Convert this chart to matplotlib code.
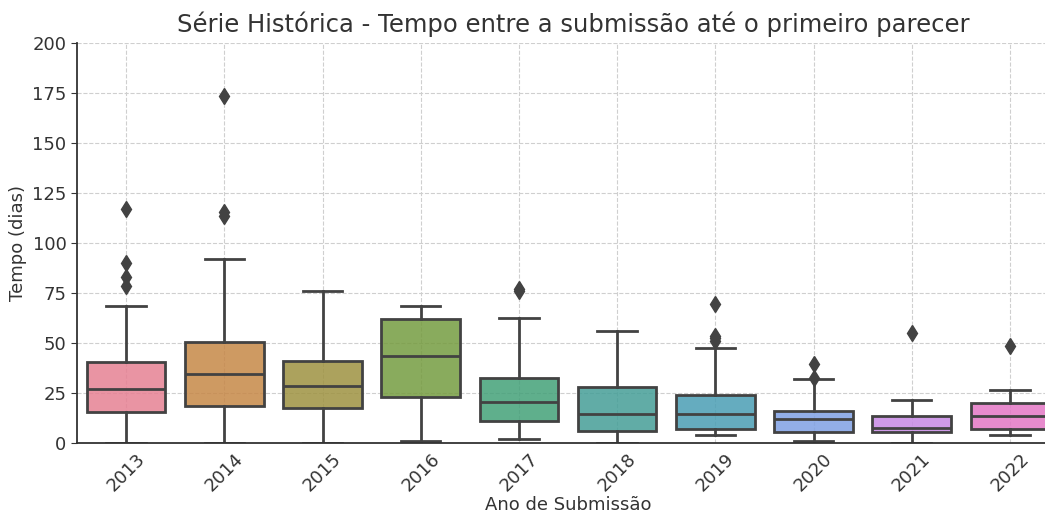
import colorsys
import numpy as np
import matplotlib
matplotlib.use('Agg')
import matplotlib.pyplot as plt
import seaborn as sns

anos = ['2013', '2014', '2015', '2016', '2017', '2018', '2019', '2020', '2021', '2022']

# resumo de cada ano (dias ate o primeiro parecer)
whislo = [0, 0, 0, 1, 2, 0, 4, 1, 0, 4]
q1 = [15.7, 18.5, 17.3, 22.8, 11.0, 6.2, 7.0, 5.5, 5.5, 7.0]
med = [26.8, 34.3, 28.7, 43.5, 20.7, 14.5, 14.5, 11.8, 7.3, 13.5]
q3 = [40.3, 50.7, 40.8, 62.2, 32.7, 28.0, 23.8, 16.2, 13.5, 19.8]
whishi = [68.7, 91.8, 75.8, 68.7, 62.7, 56.0, 47.7, 31.8, 21.5, 26.7]
outliers = [
    [117, 89.8, 83, 78.7],
    [173.7, 115.7, 113.7],
    [],
    [],
    [76, 77],
    [],
    [69.7, 53.5, 52.5, 51.2],
    [39.3, 32.7],
    [54.8],
    [48.5],
]

plt.rcParams['font.family'] = 'DejaVu Sans'

# paleta husl dessaturada, como no boxplot do seaborn
cores = sns.color_palette(sns.husl_palette(len(anos)), desat=0.75)
lum = min(colorsys.rgb_to_hls(*c)[1] for c in cores) * 0.6
cinza = (lum, lum, lum)

stats = []
for i in range(len(anos)):
    stats.append(dict(whislo=whislo[i], q1=q1[i], med=med[i], q3=q3[i],
                      whishi=whishi[i], fliers=outliers[i], label=anos[i]))

fig = plt.figure(figsize=(10.45, 5.16), dpi=100)
ax = fig.add_axes([0.0737, 0.1415, 0.9397, 0.775])

bp = ax.bxp(stats, positions=range(len(anos)), widths=0.8, patch_artist=True,
            boxprops=dict(edgecolor=cinza, linewidth=2),
            medianprops=dict(color=cinza, linewidth=2),
            whiskerprops=dict(color=cinza, linewidth=2),
            capprops=dict(color=cinza, linewidth=2),
            capwidths=0.4,
            flierprops=dict(marker='d', markerfacecolor=cinza, markeredgecolor=cinza,
                            markersize=8, linestyle='none'))
for caixa, cor in zip(bp['boxes'], cores):
    caixa.set_facecolor((*cor, 0.85))

ax.set_xlim(-0.5, len(anos) - 0.5)
ax.set_ylim(0, 200)
ax.set_yticks(np.arange(0, 201, 25))
ax.set_xticks(range(len(anos)))
ax.set_xticklabels(anos, rotation=45, fontsize=13)
ax.tick_params(axis='y', labelsize=13, length=4, color='#333333')
ax.tick_params(axis='x', length=0, pad=5)

ax.grid(True, linestyle='--', color='#cfcfcf', linewidth=0.8)
ax.set_axisbelow(True)
for lado in ('top', 'right'):
    ax.spines[lado].set_visible(False)
for lado in ('left', 'bottom'):
    ax.spines[lado].set_color('#333333')
    ax.spines[lado].set_linewidth(1.3)

ax.set_title('Série Histórica - Tempo entre a submissão até o primeiro parecer',
             fontsize=17.5, color='#333333', pad=8, x=0.505)
ax.set_xlabel('Ano de Submissão', fontsize=13, color='#333333', labelpad=1)
ax.set_ylabel('Tempo (dias)', fontsize=13, color='#333333')
ax.tick_params(labelcolor='#333333')

fig.savefig('out.png', dpi=100)
